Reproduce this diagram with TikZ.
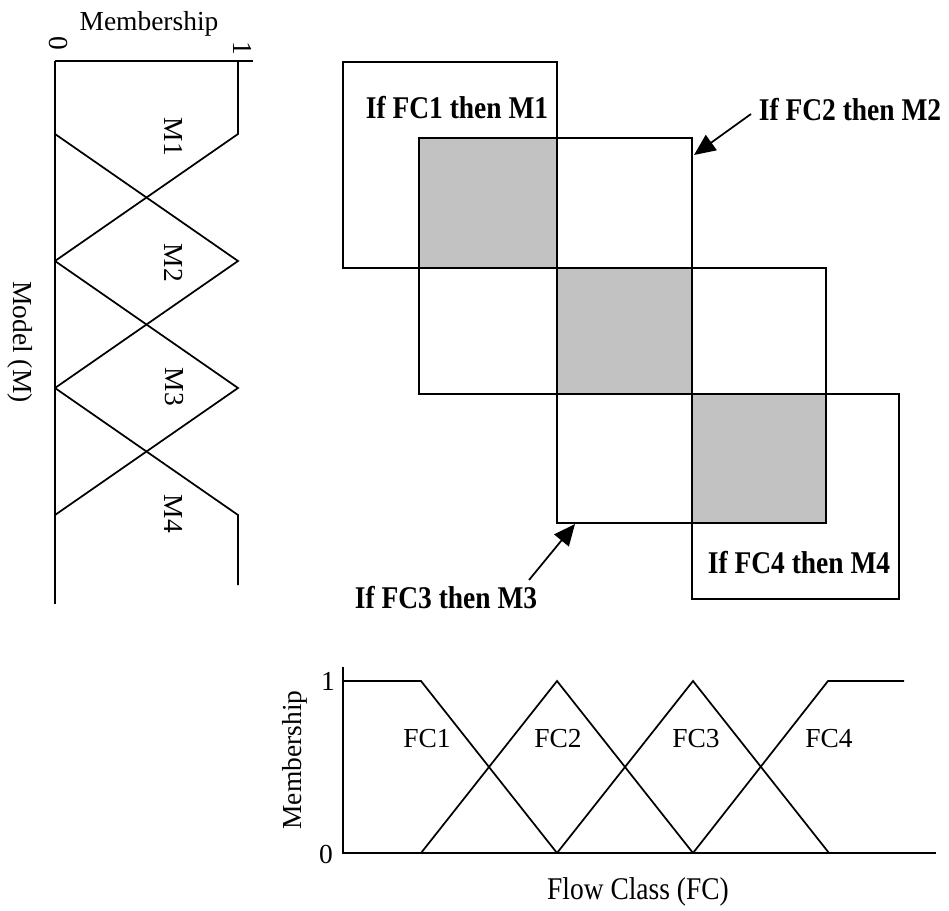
\documentclass[tikz,border=0pt]{standalone}
\usepackage{fontspec}
\setmainfont{Liberation Serif}
\usetikzlibrary{arrows.meta}
\definecolor{cellgray}{gray}{0.76}
\newcommand{\tallbox}[1]{\scalebox{1}[1.15]{#1}}
\begin{document}
\begin{tikzpicture}[x=0.75pt,y=-0.75pt,
  line width=1.3pt, line join=miter,
  lbl/.style={inner sep=0pt, font=\fontsize{20.6}{24}\selectfont},
  rulelbl/.style={inner sep=0pt, anchor=base west, font=\fontsize{20.6}{24}\selectfont\bfseries},
  ptr/.style={-{Triangle[length=16pt,width=14pt]}, line width=1.3pt},
  cell/.style={fill=cellgray}]
\useasboundingbox (0,0) rectangle (949,910);

% ---- model membership functions (vertical axis) ----
\draw (55,61) -- (253,61);
\draw (55,61) -- (55,604);
\draw (238,61) -- (238,134) -- (55,261);
\draw (55,134) -- (238,261) -- (55,388);
\draw (55,261) -- (238,388) -- (55,515);
\draw (55,388) -- (238,515) -- (238,585);

\node[lbl, anchor=base] (mtitle) at (149,31) {Membership};
\node[lbl, rotate=-90] (mzero) at (58,43) {0};
\node[lbl, rotate=-90] (mone) at (243,48) {1};
\node[lbl, rotate=-90] (maxis) at (20,342) {Model (M)};
\node[lbl, rotate=-90] (m1) at (174,137) {M1};
\node[lbl, rotate=-90] (m2) at (174,263) {M2};
\node[lbl, rotate=-90] (m3) at (174,387) {M3};
\node[lbl, rotate=-90] (m4) at (174,514) {M4};

% ---- rule base ----
\fill[cell] (419,138) rectangle (557,268);
\fill[cell] (557,268) rectangle (692,394);
\fill[cell] (692,394) rectangle (826,523);
\draw (343,62) rectangle (557,268);
\draw (419,138) rectangle (692,394);
\draw (557,268) rectangle (826,523);
\draw (692,394) rectangle (899,599);

\node[rulelbl] (r1) at (365,118) {\tallbox{If FC1 then M1}};
\node[rulelbl] (r2) at (758,120) {\tallbox{If FC2 then M2}};
\node[rulelbl] (r3) at (354,608) {\tallbox{If FC3 then M3}};
\node[rulelbl] (r4) at (707,573) {\tallbox{If FC4 then M4}};

\coordinate (r2tail) at (751,114);
\coordinate (r2tip) at (694,155);
\coordinate (r3tail) at (529,580);
\coordinate (r3tip) at (575,524);
\draw[ptr] (r2tail) -- (r2tip);
\draw[ptr] (r3tail) -- (r3tip);

% ---- flow class membership functions ----
\draw (343,667) -- (343,853) -- (936,853);
\draw (343,681) -- (421,681) -- (557,853);
\draw (421,853) -- (557,681) -- (693,853);
\draw (557,853) -- (693,681) -- (829,853);
\draw (693,853) -- (828,681) -- (904,681);

\node[lbl] (fone) at (328,681) {1};
\node[lbl] (fzero) at (326,854) {0};
\node[lbl, rotate=90] (faxis) at (295,760) {Membership};
\node[lbl] (fc1) at (427,739) {FC1};
\node[lbl] (fc2) at (558,739) {FC2};
\node[lbl] (fc3) at (696,739) {FC3};
\node[lbl] (fc4) at (829,739) {FC4};
\node[lbl, anchor=base] (ftitle) at (638,899) {\tallbox{Flow Class (FC)}};
\end{tikzpicture}
\end{document}
